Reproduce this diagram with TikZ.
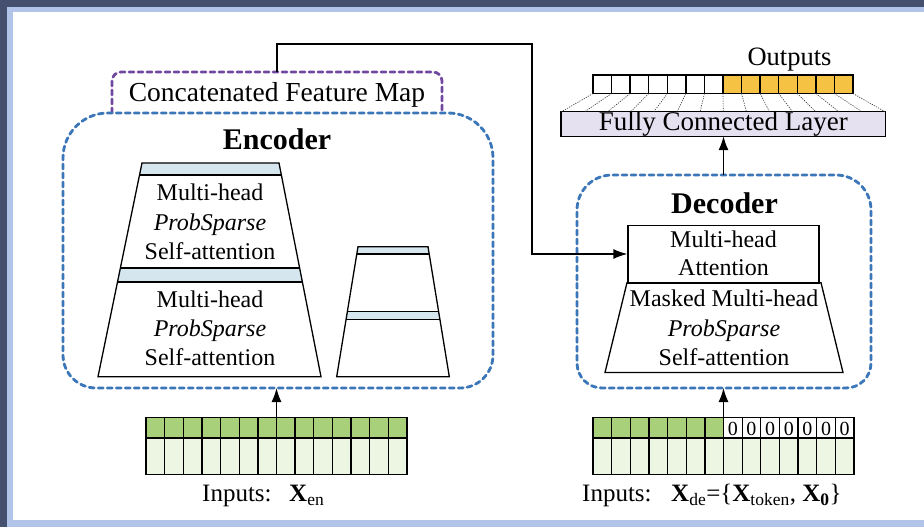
\documentclass[tikz,border=0pt]{standalone}
\usepackage{fontspec}
\setmainfont{Liberation Serif}
\usetikzlibrary{arrows.meta,calc}
\definecolor{darkbg}{RGB}{68,80,110}
\definecolor{framebg}{RGB}{178,197,232}
\definecolor{encblue}{RGB}{58,118,184}
\definecolor{catpurple}{RGB}{112,72,160}
\definecolor{bandc}{RGB}{214,230,239}
\definecolor{fclc}{RGB}{229,225,241}
\definecolor{yellowc}{RGB}{246,194,68}
\definecolor{greenc}{RGB}{168,208,122}
\definecolor{lgreenc}{RGB}{237,245,227}
\begin{document}
\begin{tikzpicture}[x=1pt,y=-1pt,
  outl/.style={draw=black, line width=1.3pt, line join=miter},
  dashbox/.style={line width=2.8pt, dash pattern=on 5pt off 4pt, line cap=round},
  encbox/.style={dashbox, draw=encblue},
  catbox/.style={dashbox, draw=catpurple},
  conn/.style={draw=black, line width=1.3pt},
  tip/.style={-{Latex[length=14pt,width=10pt]}},
  txt/.style={inner sep=0pt, anchor=base, font=\fontsize{24}{29}\selectfont},
  bigtxt/.style={inner sep=0pt, anchor=base, font=\fontsize{27.5}{32}\selectfont},
  boldtxt/.style={inner sep=0pt, anchor=base, font=\fontsize{30}{34}\selectfont\bfseries},
  intxt/.style={inner sep=0pt, anchor=base west, font=\fontsize{25}{30}\selectfont},
  zerotxt/.style={inner sep=0pt, anchor=base, font=\fontsize{20}{24}\selectfont},
  fan/.style={draw=black!80, line width=0.6pt, dash pattern=on 1.2pt off 1.2pt}
]
\useasboundingbox (0,0) rectangle (924,527);
% background frame
\fill[darkbg] (0,0) rectangle (924,527);
\fill[framebg] (7,7) rectangle (924,527);
\fill[white] (13,12) rectangle (924,520);

% ---------- Concatenated feature map ----------
\draw[catbox] (112,113) [rounded corners=9pt] |- (277,72) -| (442,113);
\node[bigtxt] (concat) at (277,101.5) {Concatenated Feature Map};
\coordinate (cattop) at (277,72);

% ---------- Encoder ----------
\draw[encbox] (63,250) [rounded corners=45pt] |- (278,113) -| (493,250)
  [rounded corners=33pt] |- (278,388) -| (63,250);
\node[boldtxt] (enclabel) at (277,149) {Encoder};
\coordinate (encbot) at (276.5,388);

% big trapezoid (two stacked layers)
\fill[bandc] (142,163) -- (279,163) -- (281.4,175) -- (139.5,175) -- cycle;
\fill[bandc] (120.4,268) -- (299.6,268) -- (302.4,282) -- (117.5,282) -- cycle;
\draw[outl] (142,163) -- (279,163) -- (321,376.7) -- (98,376.7) -- cycle;
\draw[outl] (139.5,175) -- (281.4,175);
\draw[outl] (120.4,268) -- (299.6,268);
\draw[outl] (117.5,282) -- (302.4,282);
\node[txt] (e1a) at (210,200.7) {Multi-head};
\node[txt] (e1b) at (210,230) {\itshape ProbSparse};
\node[txt] (e1c) at (210,259.3) {Self-attention};
\node[txt] (e2a) at (210,307.7) {Multi-head};
\node[txt] (e2b) at (210,336.5) {\itshape ProbSparse};
\node[txt] (e2c) at (210,365.2) {Self-attention};

% small trapezoid
\fill[bandc] (358,246.7) -- (428,246.7) -- (429.2,254) -- (356.8,254) -- cycle;
\fill[bandc] (347.35,311.7) -- (438.65,311.7) -- (439.9,319.3) -- (346.1,319.3) -- cycle;
\draw[outl] (358,246.7) -- (428,246.7) -- (449.3,376.7) -- (336.7,376.7) -- cycle;
\draw[outl] (356.8,254) -- (429.2,254);
\draw[outl] (347.35,311.7) -- (438.65,311.7);
\draw[outl] (346.1,319.3) -- (439.9,319.3);

% ---------- Decoder ----------
\draw[encbox] (577,280) [rounded corners=35pt] |- (724,175) -| (871,280)
  [rounded corners=25pt] |- (724,388) -| (577,280);
\node[boldtxt] (declabel) at (724.5,213.3) {Decoder};
\coordinate (dectop) at (723.5,175);
\coordinate (decbot) at (723.5,388);
\node[outl, fill=white, minimum width=191pt, minimum height=57.7pt, inner sep=0pt] (attn) at (723.5,254) {};
\node[txt] (d1a) at (723.5,247.3) {Multi-head};
\node[txt] (d1b) at (723.5,275.7) {Attention};
\draw[outl] (627,282.7) -- (821,282.7) -- (843,372.5) -- (605,372.5) -- cycle;
\node[txt] (d2a) at (724,306.7) {Masked Multi-head};
\node[txt] (d2b) at (724,336.3) {\itshape ProbSparse};
\node[txt] (d2c) at (724,365) {Self-attention};

% ---------- Fully connected layer + outputs ----------
\node[outl, fill=fclc, minimum width=324.5pt, minimum height=24.3pt, inner sep=0pt,
  font=\fontsize{27}{31}\selectfont] (fcl) at (723.25,124) {Fully Connected Layer};
\foreach \i in {0,...,13} {
  \ifnum\i<7 \def\cc{white}\else\def\cc{yellowc}\fi
  \draw[outl, fill=\cc] ({593+\i*18.571},75) rectangle ({593+(\i+1)*18.571},93.5);
}
\foreach \i in {0,...,14} {
  \draw[fan] ({593+\i*18.571},93.5) -- ({561+\i*23.179},112);
}
\node[inner sep=0pt, anchor=base, font=\fontsize{26.5}{30}\selectfont] (outlabel) at (789.5,66) {Outputs};
\coordinate (fclbot) at (723.5,136.2);

% ---------- Input grids ----------
\foreach \i in {0,...,13} {
  \draw[outl, fill=greenc] ({146+\i*18.643},417.5) rectangle ({146+(\i+1)*18.643},438);
  \draw[outl, fill=lgreenc] ({146+\i*18.643},438) rectangle ({146+(\i+1)*18.643},474.5);
}
\coordinate (encgrid) at (276.5,417.5);
\foreach \i in {0,...,13} {
  \ifnum\i<7 \def\cc{greenc}\else\def\cc{white}\fi
  \draw[outl, fill=\cc] ({593+\i*18.643},417.5) rectangle ({593+(\i+1)*18.643},438);
  \draw[outl, fill=lgreenc] ({593+\i*18.643},438) rectangle ({593+(\i+1)*18.643},474.5);
}
\foreach \i in {7,...,13} {
  \node[zerotxt] at ({593+(\i+0.5)*18.643},435.5) {0};
}
\coordinate (decgrid) at (723.5,417.5);

\node[intxt] (inen) at (202,501.5) {Inputs:};
\node[intxt] (xen) at (289,501.5) {\textbf{X}\textsubscript{en}};
\node[intxt] (inde) at (582,501.5) {Inputs:};
\node[intxt] (xde) at (671,501.5) {\textbf{X}\textsubscript{de}=\{\textbf{X}\textsubscript{token}, \textbf{X}\textsubscript{\textbf{0}}\}};

% ---------- Connectors ----------
\draw[conn, tip] (encgrid) -- (encbot);
\draw[conn, tip] (decgrid) -- (decbot);
\draw[conn, tip] (dectop) -- (fclbot);
\draw[conn, tip] (cattop) |- (532,44) |- (attn.west);
\end{tikzpicture}
\end{document}
